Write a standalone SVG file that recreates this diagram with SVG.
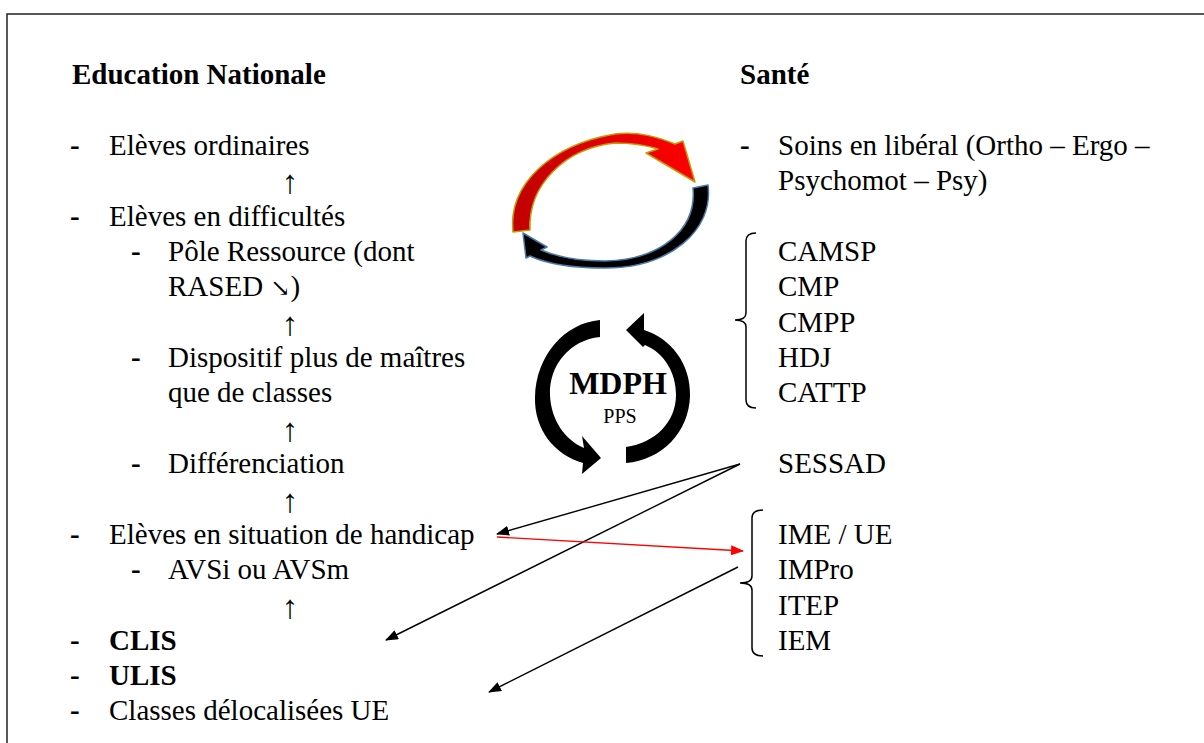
<svg xmlns="http://www.w3.org/2000/svg" width="1204" height="743" viewBox="0 0 1204 743" font-family="'Liberation Serif', 'DejaVu Serif', serif">
<style>
text{font-family:'Liberation Serif','DejaVu Serif',serif;font-size:29px;fill:#000}
.b{font-weight:bold}
.m{text-anchor:middle}
.ar{font-family:'Liberation Serif','DejaVu Serif',serif;font-size:33px}
.se{font-family:'DejaVu Serif',serif;font-size:24px}
.conn{fill:none;stroke:#000;stroke-width:1.4}
.brk{fill:none;stroke:#000;stroke-width:1.5}
</style>
<defs>
<marker id="ah" markerUnits="userSpaceOnUse" markerWidth="13" markerHeight="10" refX="12" refY="5" orient="auto"><path d="M0,0 L13,5 L0,10 z" fill="#000"/></marker>
<marker id="ahr" markerUnits="userSpaceOnUse" markerWidth="13" markerHeight="10" refX="12" refY="5" orient="auto"><path d="M0,0 L13,5 L0,10 z" fill="#f00"/></marker>
<linearGradient id="rg" x1="0" y1="0" x2="1" y2="0"><stop offset="0" stop-color="#c00000"/><stop offset="0.6" stop-color="#e80000"/><stop offset="1" stop-color="#ff0000"/></linearGradient>
</defs>
<rect width="1204" height="743" fill="#fff"/>
<path d="M7 743 V14 H1204" fill="none" stroke="#222" stroke-width="1.5"/>

<g id="education-nationale">
<text class="b" x="72" y="84">Education Nationale</text>
<text class="b" x="70" y="155">-</text><text x="109" y="155">Elèves ordinaires</text>
<text class="m ar" x="290" y="193">↑</text>
<text class="b" x="70" y="226">-</text><text x="109" y="226">Elèves en difficultés</text>
<text class="b" x="131" y="261">-</text><text x="168" y="261">Pôle Ressource (dont</text>
<text x="168" y="296">RASED <tspan class="se">↘</tspan>)</text>
<text class="m ar" x="290" y="335">↑</text>
<text class="b" x="131" y="367">-</text><text x="168" y="367">Dispositif plus de maîtres</text>
<text x="168" y="402">que de classes</text>
<text class="m ar" x="290" y="441">↑</text>
<text class="b" x="131" y="473">-</text><text x="168" y="473">Différenciation</text>
<text class="m ar" x="290" y="512">↑</text>
<text class="b" x="70" y="544">-</text><text x="109" y="544">Elèves en situation de handicap</text>
<text class="b" x="131" y="579">-</text><text x="168" y="579">AVSi ou AVSm</text>
<text class="m ar" x="290" y="618">↑</text>
<text class="b" x="70" y="650">-</text><text class="b" x="109" y="650">CLIS</text>
<text class="b" x="70" y="685">-</text><text class="b" x="109" y="685">ULIS</text>
<text class="b" x="70" y="720">-</text><text x="109" y="720">Classes délocalisées UE</text>
</g>

<g id="sante">
<text class="b" x="740" y="84">Santé</text>
<text class="b" x="740" y="155">-</text><text x="778" y="155">Soins en libéral (Ortho – Ergo –</text>
<text x="778" y="190">Psychomot – Psy)</text>
</g>

<g id="centres">
<path class="brk" d="M756 233 Q746 233 746 241 V313 Q746 320 735 320 Q746 320 746 327 V400 Q746 408 756 408"/>
<text x="778" y="261">CAMSP</text>
<text x="778" y="296">CMP</text>
<text x="778" y="332">CMPP</text>
<text x="778" y="367">HDJ</text>
<text x="778" y="402">CATTP</text>
</g>

<g id="sessad">
<text x="778" y="473">SESSAD</text>
</g>

<g id="etablissements">
<path class="brk" d="M763 510 Q752 510 752 518 V576 Q752 583 740 583 Q752 583 752 590 V648 Q752 656 763 656"/>
<text x="778" y="544">IME / UE</text>
<text x="778" y="579">IMPro</text>
<text x="778" y="615">ITEP</text>
<text x="778" y="650">IEM</text>
</g>

<g id="cycle-top">
<path d="M513 232 C508 185 550 145 615 134 C640 131 660 138 675 144 L683 141 L695 182 L646 153 L658 149 C645 145 630 143 615 143 C565 148 528 185 530 230 Z" fill="url(#rg)" stroke="#c89a00" stroke-width="1.5" stroke-linejoin="round"/>
<path d="M708 185 C714 230 670 268 605 268 C570 268 545 263 530 256 L526 258 L523 233 L547 247 L541 250 C560 258 580 261 605 261 C660 260 697 230 693 188 Z" fill="#000" stroke="#4a78a8" stroke-width="1.5" stroke-linejoin="round"/>
</g>

<g id="mdph">
<path d="M600 320 L600 337 C570 340 549 365 550 395 C551 420 565 440 584 448 L582 436 L601 458 L582 474 L583 463 C555 455 534 430 535 397 C536 355 565 323 600 320 Z" fill="#000"/>
<path d="M626 463 L626 447 C655 443 676 422 676 395 C676 372 664 353 645 345 L643 347 L626 330 L644 313 L644 330 C670 338 691 363 690 396 C689 432 662 460 626 463 Z" fill="#000"/>
<text class="b m" x="618" y="394" style="font-size:32px">MDPH</text>
<text class="m" x="620" y="423" style="font-size:20px">PPS</text>
</g>

<g id="connectors">
<path class="conn" d="M740 464 L497 534" marker-end="url(#ah)"/>
<path class="conn" d="M740 464 L386 640" marker-end="url(#ah)"/>
<path class="conn" d="M497 537 L743 551" style="stroke:#f00" marker-end="url(#ahr)"/>
<path class="conn" d="M738 567 L489 692" marker-end="url(#ah)"/>
</g>
</svg>
